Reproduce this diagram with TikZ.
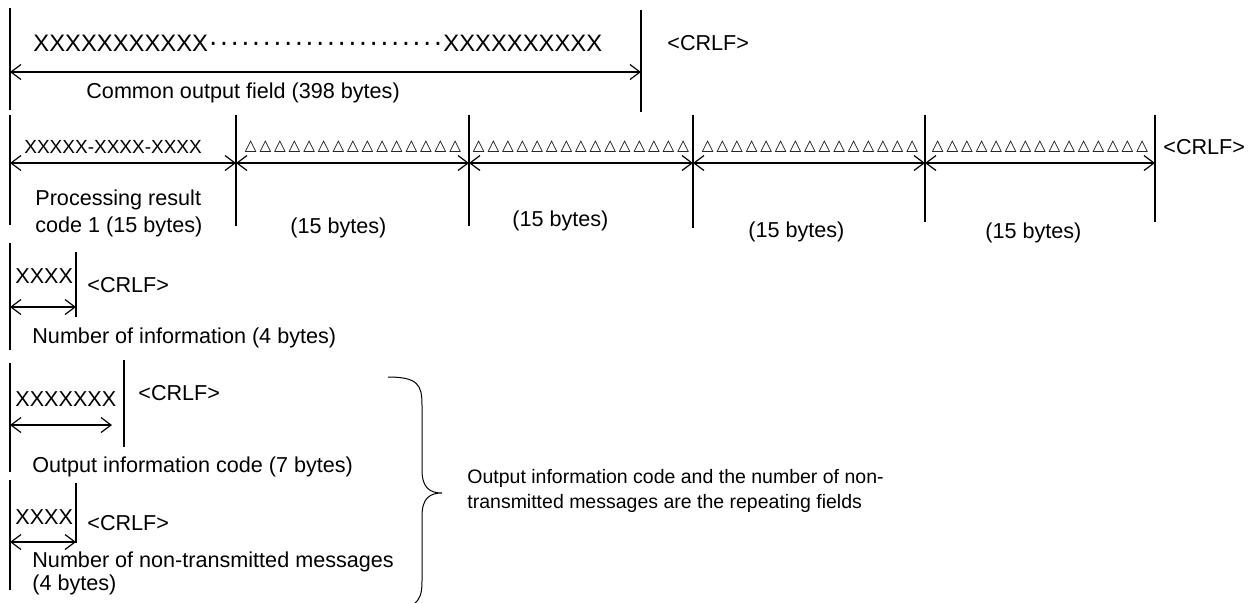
\documentclass[tikz,border=0pt]{standalone}
\usepackage{fontspec}
\setmainfont{Liberation Sans}
\newfontfamily\symfont{DejaVu Sans}
\usetikzlibrary{arrows.meta}

% one byte marker and a run of fifteen of them
\newcommand{\tri}{\makebox[7.3pt]{\symfont\fontsize{7.6}{8}\selectfont △}}
\newcommand{\tris}{\tri\tri\tri\tri\tri\tri\tri\tri\tri\tri\tri\tri\tri\tri\tri}
% row of middle dots between the two X runs
\newcommand{\dotrun}{\xleaders\hbox to 5.35pt{\hss\fontsize{14}{14}\selectfont·\hss}\hskip 117.7pt}

\tikzset{
  sep/.style={line width=0.8pt},
  span/.style={{Straight Barb[length=5pt,width=7.5pt]}-{Straight Barb[length=5pt,width=7.5pt]}, line width=0.6pt},
  lbl/.style={inner sep=0pt, anchor=west, font=\fontsize{10.8}{13.5}\selectfont},
}

\begin{document}
\begin{tikzpicture}[x={(0.5pt,0)}, y={(0,-0.5pt)}]
      \useasboundingbox[fill=white] (0,0) rectangle (1255,602);

      % Common output field:
      \draw[sep] (10,8) -- (10,110);
      \draw[sep] (641,10) -- (641,112);
      \node[lbl, font=\fontsize{11.9}{14}\selectfont] (hdr) at (33,43) {XXXXXXXXXXX\dotrun XXXXXXXXXX};
      \node[lbl] (crlf1) at (667,43) {<CRLF>};
      \coordinate (c0) at (10,72);
      \coordinate (c1) at (641,72);
      \draw[span] (c0) -- (c1);
      \node[lbl] (common) at (86,93) {Common output field (398 bytes)};

      % Processing result codes:
      \foreach \x/\yb in {10/225, 236/226, 469/226, 693/228, 925/222, 1155/222}
        \draw[sep] (\x,115) -- (\x,\yb);
      \foreach \i/\xa/\xb in {1/10/236, 2/236/469, 3/469/693, 4/693/925, 5/925/1155} {
        \coordinate (p\i a) at (\xa,163);
        \coordinate (p\i b) at (\xb,163);
        \draw[span] (p\i a) -- (p\i b);
      }
      \node[lbl, font=\fontsize{9.5}{11}\selectfont] (code) at (24,147) {XXXXX-XXXX-XXXX};
      \foreach \i/\x in {2/353, 3/581, 4/810, 5/1040}
        \node[inner sep=0pt] (tri\i) at (\x,147) {\tris};
      \node[lbl] (crlf2) at (1163,147) {<CRLF>};
      \node[lbl, align=left] (res) at (35,213.5) {Processing result\\code 1 (15 bytes)};
      \foreach \i/\x/\y in {2/290/228, 3/512/221, 4/748/232, 5/985/233}
        \node[lbl] (len\i) at (\x,\y) {(15 bytes)};

      % Number of information:
      \draw[sep] (10,243) -- (10,350);
      \draw[sep] (76,252) -- (76,317);
      \node[lbl] (num) at (15,276) {XXXX};
      \node[lbl] (crlf3) at (87,285) {<CRLF>};
      \coordinate (n0) at (10,307);
      \coordinate (n1) at (76,307);
      \draw[span] (n0) -- (n1);
      \node[lbl] (numlbl) at (32,338) {Number of information (4 bytes)};

      % Output information code:
      \draw[sep] (10,363) -- (10,472);
      \draw[sep] (124,360) -- (124,447);
      \node[lbl] (oic) at (15,399) {XXXXXXX};
      \node[lbl] (crlf4) at (138,393) {<CRLF>};
      \coordinate (o0) at (10,425);
      \coordinate (o1) at (112,425);
      \draw[span] (o0) -- (o1);
      \node[lbl] (oiclbl) at (32,467) {Output information code (7 bytes)};

      % Number of non-transmitted messages:
      \draw[sep] (10,480) -- (10,590);
      \draw[sep] (76,483) -- (76,543);
      \node[lbl] (nt) at (15,517) {XXXX};
      \node[lbl] (crlf5) at (87,523) {<CRLF>};
      \coordinate (m0) at (10,542);
      \coordinate (m1) at (76,542);
      \draw[span] (m0) -- (m1);
      \node[lbl, align=left, font=\fontsize{10.8}{11.5}\selectfont] (ntlbl) at (32,573.5) {Number of non-transmitted messages\\(4 bytes)};

      % Brace over the repeating fields
      \draw[line width=0.5pt] (388,377) .. controls (418,377) and (422,385) .. (422,405) -- (422,470)
        .. controls (422,488) and (430,493) .. (442,493) .. controls (430,493) and (422,498) .. (422,516)
        -- (422,581) .. controls (422,594) and (420,599) .. (414,604);
      \node[lbl, align=left, font=\fontsize{9.75}{12.5}\selectfont] (rep) at (467,490.5)
        {Output information code and the number of non-\\transmitted messages are the repeating fields};
    \end{tikzpicture}
\end{document}
